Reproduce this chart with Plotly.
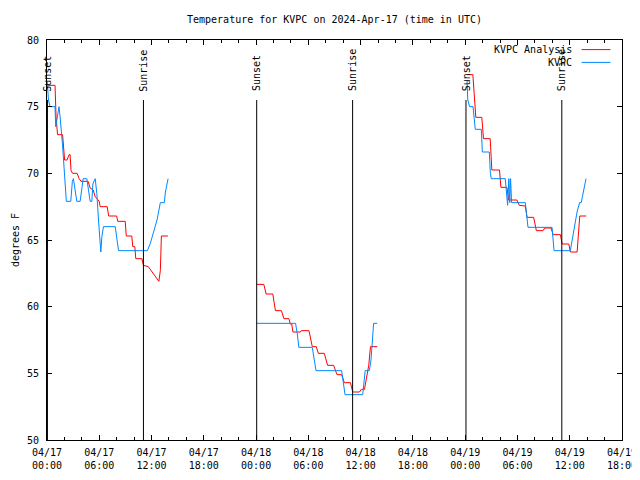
import plotly.graph_objects as go
from datetime import datetime, timedelta

# ---------------- data (hours since 2024-04-17 00:00 UTC, temperatures in F) -------------
red_seg1_hours = [0.03, 0.92, 1.04, 1.21, 1.79, 1.9, 2.02, 2.3, 2.53, 2.65, 2.76, 2.94, 3.46, 3.69,
                  3.92, 4.72, 4.95, 5.3, 5.53, 5.99, 6.1, 6.91, 7.08, 8.0, 8.12, 8.98, 9.1, 9.73,
                  9.85, 10.08, 10.19, 10.9, 11.06, 11.63, 12.84, 13.01, 13.13, 13.88]
red_seg1_temps = [76.6, 76.6, 74.25, 72.9, 72.9, 72.0, 71.0, 71.0, 71.4, 71.4, 70.2, 70.0, 70.0, 69.6,
                  69.4, 69.4, 68.9, 68.75, 68.25, 67.9, 67.5, 67.5, 66.8, 66.8, 66.4, 66.4, 65.3, 65.3,
                  64.5, 64.5, 63.6, 63.6, 63.1, 63.0, 61.9, 62.7, 65.3, 65.3]

red_seg2_hours = [24.08, 24.89, 25.15, 25.92, 26.22, 26.91, 27.19, 27.77, 27.92, 28.09, 28.23, 29.1,
                  29.18, 30.07, 30.45, 30.91, 31.14, 31.83, 32.21, 32.9, 33.29, 33.82, 34.13, 34.83,
                  35.09, 35.86, 36.09, 36.44, 36.93, 37.13, 37.9]
red_seg2_temps = [61.67, 61.67, 60.95, 60.95, 59.7, 59.7, 59.1, 59.1, 58.7, 58.7, 58.1, 58.1,
                  58.2, 58.2, 57.0, 57.0, 56.5, 56.5, 55.6, 55.6, 54.9, 54.9, 54.3, 54.3,
                  53.6, 53.6, 53.8, 53.8, 55.6, 57.0, 57.0]

red_seg3_hours = [48.25, 48.88, 49.03, 49.22, 49.91, 50.1, 50.87, 51.06, 51.94, 52.1, 52.79, 53.0,
                  53.93, 54.21, 54.9, 55.1, 55.86, 56.17, 56.94, 57.12, 57.86, 58.09, 58.93, 59.13,
                  59.89, 60.08, 60.85, 61.0, 61.15, 61.89]
red_seg3_temps = [77.4, 77.4, 76.0, 74.2, 74.2, 72.6, 72.6, 70.25, 70.25, 68.95, 68.95, 68.0,
                  68.0, 67.6, 67.55, 66.7, 66.7, 65.7, 65.7, 65.9, 65.9, 65.4, 65.4, 64.7,
                  64.7, 64.1, 64.1, 65.5, 66.8, 66.8]

blue_seg1_hours = [0.03, 0.17, 0.35, 0.92, 1.0, 1.19, 1.38, 1.5, 1.65, 1.79, 1.9, 2.02, 2.11, 2.22,
                   2.73, 2.91, 3.03, 3.22, 3.42, 3.8, 4.0, 4.15, 4.57, 4.72, 4.87, 4.95, 5.15, 5.26,
                   5.53, 5.72, 5.91, 6.1, 6.18, 6.3, 6.48, 7.83, 8.03, 8.21, 11.52, 11.86, 12.63,
                   13.01, 13.47, 13.59, 13.9]
blue_seg1_temps = [76.9, 75.5, 75.0, 75.0, 73.5, 74.25, 75.0, 74.25, 73.3, 72.1, 71.0, 70.0, 69.2, 67.9,
                   67.9, 69.4, 69.6, 68.75, 67.9, 67.9, 69.0, 69.6, 69.6, 68.75, 68.2, 67.9, 67.9, 69.2,
                   69.6, 68.5, 66.5, 64.75, 64.1, 65.25, 66.0, 66.0, 65.0, 64.2, 64.2, 64.75, 66.5,
                   67.8, 67.8, 68.6, 69.6]

blue_seg2_hours = [24.08, 28.53, 28.72, 28.91, 30.45, 30.68, 30.88, 33.82, 34.02, 34.21, 36.24,
                   36.52, 37.0, 37.19, 37.49, 37.9]
blue_seg2_temps = [58.75, 58.75, 58.0, 56.95, 56.95, 56.0, 55.2, 55.2, 54.3, 53.4, 53.4,
                   55.2, 55.2, 56.0, 58.75, 58.75]

blue_seg3_hours = [48.21, 48.3, 48.51, 48.9, 49.16, 49.85, 49.97, 50.77, 50.89, 51.0, 52.6, 52.78,
                   52.87, 53.01, 53.12, 53.21, 53.33, 54.9, 55.1, 55.21, 57.97, 58.12, 58.2, 60.07,
                   60.45, 60.84, 61.13, 61.33, 61.44, 61.87]
blue_seg3_temps = [77.0, 75.5, 75.0, 75.0, 73.3, 73.3, 71.6, 71.6, 70.0, 69.6, 69.6, 68.3,
                   67.6, 69.6, 67.8, 69.6, 67.8, 67.8, 66.8, 65.95, 65.95, 65.0, 64.2, 64.2,
                   65.75, 67.1, 67.8, 67.8, 68.2, 69.6]

sun_hours = [0.05, 11.07, 24.07, 35.08, 48.09, 59.09]
sun_labels = ["Sunset", "Sunrise", "Sunset", "Sunrise", "Sunset", "Sunrise"]

series_names = ["KVPC Analysis", "KVPC"]
series_colors = ["#ff0000", "#0088ff"]

y_range = [50, 80]
x_span_hours = 66
sun_line_top = 75.5
sun_label_base = 76.0

base = datetime(2024, 4, 17, 0, 0)


def to_time(hours):
    return [base + timedelta(hours=h) for h in hours]


def join(segments):
    xs, ys = [], []
    for hs, ts in segments:
        xs += to_time(hs) + [None]
        ys += list(ts) + [None]
    return xs, ys


red_x, red_y = join([(red_seg1_hours, red_seg1_temps), (red_seg2_hours, red_seg2_temps),
                     (red_seg3_hours, red_seg3_temps)])
blue_x, blue_y = join([(blue_seg1_hours, blue_seg1_temps), (blue_seg2_hours, blue_seg2_temps),
                       (blue_seg3_hours, blue_seg3_temps)])

FONT = "DejaVu Sans Mono"

fig = go.Figure()
fig.add_trace(go.Scatter(x=red_x, y=red_y, mode="lines", name=series_names[0],
                         line=dict(color=series_colors[0], width=1), connectgaps=False))
fig.add_trace(go.Scatter(x=blue_x, y=blue_y, mode="lines", name=series_names[1],
                         line=dict(color=series_colors[1], width=1), connectgaps=False))

# sunrise / sunset markers
for h, lab in zip(sun_hours, sun_labels):
    t = base + timedelta(hours=h)
    fig.add_shape(type="line", xref="x", yref="y", x0=t, x1=t, y0=y_range[0], y1=sun_line_top,
                  line=dict(color="black", width=1))
    fig.add_annotation(x=t, y=sun_label_base, xref="x", yref="y", text=lab, textangle=-90,
                       showarrow=False, xanchor="center", yanchor="bottom",
                       font=dict(family=FONT, size=10, color="black"))

# gnuplot-style legend (text left, sample right)
legend_rows = [0.976, 0.944]
for name, color, yy in zip(series_names, series_colors, legend_rows):
    fig.add_annotation(x=0.917, y=yy, xref="paper", yref="paper", text=name, showarrow=False,
                       xanchor="right", yanchor="middle", font=dict(family=FONT, size=10, color="black"))
    fig.add_shape(type="line", xref="paper", yref="paper", x0=0.9297, x1=0.980, y0=yy, y1=yy,
                  line=dict(color=color, width=1))

# y axis title
fig.add_annotation(x=-0.0555, y=0.5, xref="paper", yref="paper", text="degrees F", textangle=-90,
                   showarrow=False, xanchor="center", yanchor="middle",
                   font=dict(family=FONT, size=10, color="black"))

# the page body has an 8px margin; size the figure so it ends at the window edge
fig.update_layout(
    width=632, height=472,
    margin=dict(l=39, r=18, t=32, b=40, autoexpand=False),
    paper_bgcolor="white", plot_bgcolor="white",
    showlegend=False,
    font=dict(family=FONT, size=10, color="black"),
    title=dict(text="Temperature for KVPC on 2024-Apr-17 (time in UTC)", xref="paper", x=0.5,
               xanchor="center", y=1 - 11 / 472, yanchor="middle",
               font=dict(family=FONT, size=10, color="black")),
)
fig.update_xaxes(
    type="date",
    range=[base, base + timedelta(hours=x_span_hours)],
    tick0=base, dtick=6 * 3600 * 1000,
    tickformat="%m/%d<br>%H:%M",
    ticks="inside", ticklen=5, tickcolor="black", tickwidth=1,
    minor=dict(dtick=2 * 3600 * 1000, ticks="inside", ticklen=3, tickcolor="black", showgrid=False),
    showline=True, linecolor="black", linewidth=1, mirror="ticks",
    showgrid=False, zeroline=False, automargin=False, ticklabelstandoff=3,
    tickfont=dict(family=FONT, size=10, color="black"),
)
fig.update_yaxes(
    range=y_range, dtick=5, tick0=50,
    ticks="inside", ticklen=5, tickcolor="black", tickwidth=1,
    showline=True, linecolor="black", linewidth=1, mirror="ticks",
    showgrid=False, zeroline=False, automargin=False, ticklabelstandoff=5,
    tickfont=dict(family=FONT, size=10, color="black"),
)

fig.write_html("out.html")
